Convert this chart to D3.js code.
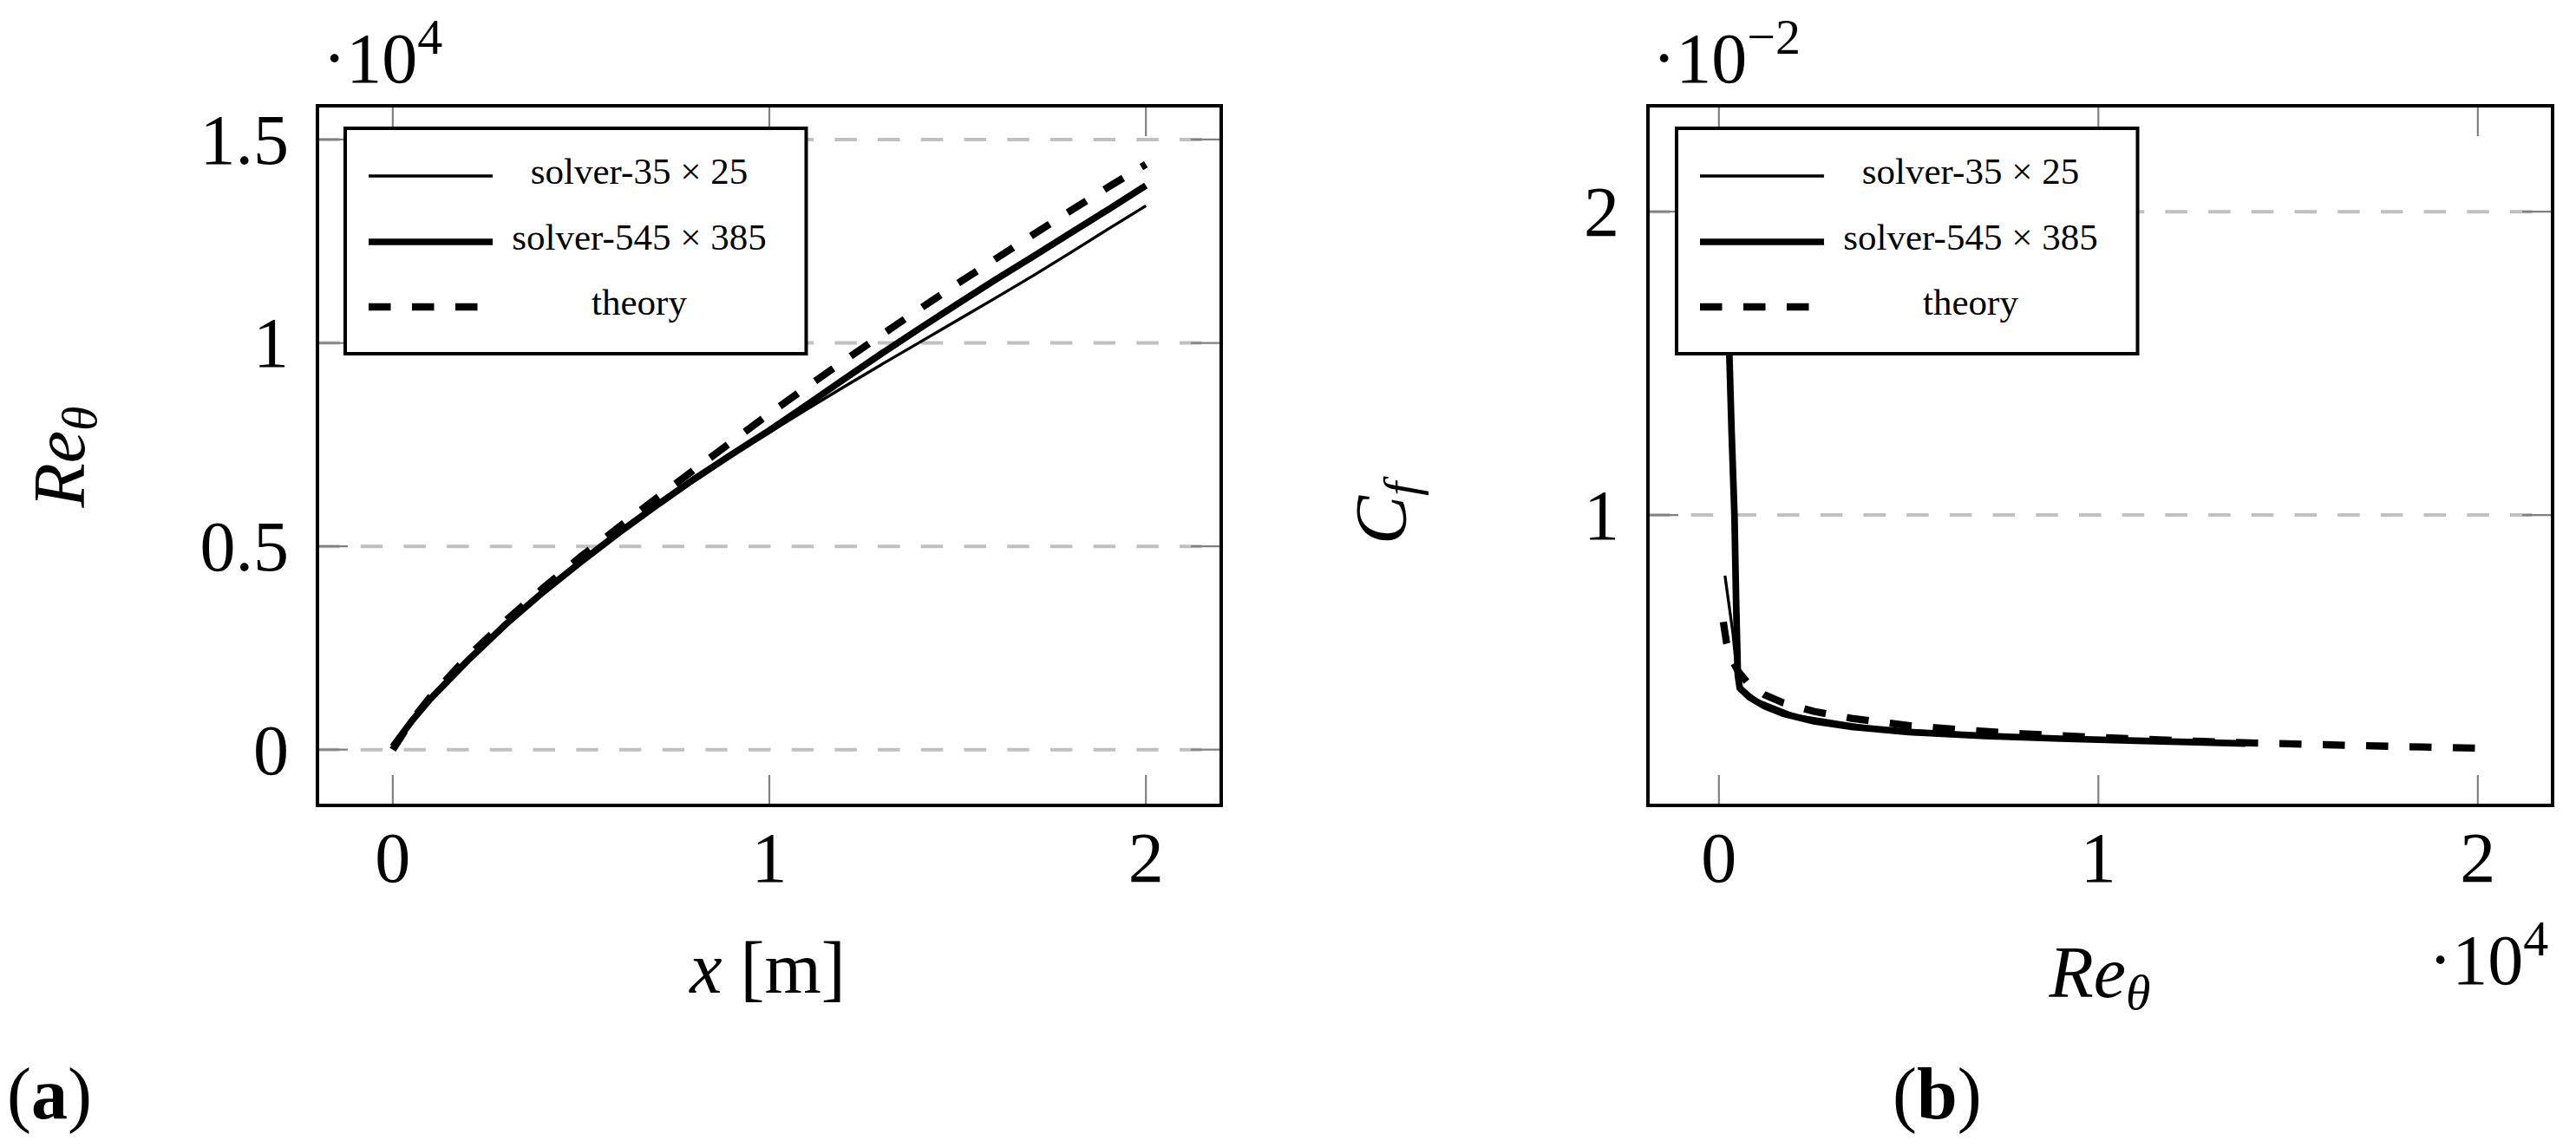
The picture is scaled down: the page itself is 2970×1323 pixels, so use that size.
<!DOCTYPE html>
<html><head><meta charset="utf-8">
<script src="https://cdn.jsdelivr.net/npm/d3@7"></script>
<style>
body{margin:0;background:#fff}
svg{display:block}
text{font-family:"Liberation Serif","Times New Roman",serif;fill:#000}
</style>
</head><body>
<svg id="c" width="2970" height="1323"></svg>
<script>
// ---------- DATA ----------
// (a) Re_theta along the plate, x in metres
const xA = [0, 0.05, 0.1, 0.2, 0.3, 0.4, 0.5, 0.6, 0.7, 0.8, 0.9, 1.0, 1.1, 1.2, 1.3, 1.4, 1.5, 1.6, 1.7, 1.8, 1.9, 2.0];
const reThetaTheoryA = [0, 720, 1300, 2300, 3170, 3980, 4750, 5470, 6180, 6880, 7570, 8260, 8920, 9570, 10210, 10840, 11460, 12060, 12660, 13250, 13830, 14390];
const reThetaFineA   = [80, 700, 1250, 2200, 3080, 3880, 4620, 5330, 6000, 6650, 7260, 7850, 8480, 9120, 9750, 10360, 10960, 11550, 12120, 12700, 13280, 13870];
const reThetaCoarseA = [80, 700, 1250, 2200, 3080, 3880, 4600, 5300, 5980, 6600, 7220, 7800, 8370, 8930, 9480, 10020, 10560, 11100, 11650, 12220, 12800, 13370];

// (b) skin friction vs Re_theta
const reThetaTheoryB = [117, 200, 300, 500, 800, 1200, 1700, 2500, 3500, 5000, 6500, 8000, 10000, 12000, 14000, 16000, 18000, 20000];
const cfTheoryB      = [0.00648, 0.00580, 0.00534, 0.00486, 0.00441, 0.00408, 0.00381, 0.00353, 0.00330, 0.00306, 0.00291, 0.00279, 0.00267, 0.00257, 0.00249, 0.00243, 0.00237, 0.00232];
const reThetaFineB   = [130, 336, 410, 450, 500, 550, 800, 1200, 1700, 2500, 3500, 5000, 7000, 9000, 11000, 13000, 13870];
const cfFineB        = [0.02154, 0.01269, 0.0100, 0.00734, 0.0047, 0.0043, 0.0040, 0.0037, 0.00345, 0.0032, 0.00302, 0.00285, 0.00272, 0.00263, 0.00256, 0.0025, 0.00247];
const reThetaCoarseB = [160, 370, 480, 600, 1000, 2000, 4000, 7000, 10000, 13000, 13370];
const cfCoarseB      = [0.0080, 0.0061, 0.0047, 0.0043, 0.0039, 0.0034, 0.0030, 0.00273, 0.00262, 0.00252, 0.0025];

const legendLabels = ["solver-35 × 25", "solver-545 × 385", "theory"];
const ticksXA = [0, 1, 2], ticksYA = [0, 5000, 10000, 15000];
const ticksXB = [0, 10000, 20000], ticksYB = [0.01, 0.02];

// ---------- STYLE ----------
const svg = d3.select("#c");
const TOP = 122, BOT = 929;
const styles = [
  {w: 3.3, dash: null},
  {w: 7.7, dash: null},
  {w: 8.3, dash: "25.5,24.5"}
];
const TICKF = 82, LABF = 84, LEGF = 43;

function panel(opt) {
  const g = svg.append("g");
  const x = d3.scaleLinear().domain(opt.xdom).range([opt.left, opt.right]);
  const y = d3.scaleLinear().domain(opt.ydom).range([BOT, TOP]);
  const id = "clip" + opt.name;
  svg.append("clipPath").attr("id", id).append("rect")
    .attr("x", opt.left).attr("y", TOP).attr("width", opt.right - opt.left).attr("height", BOT - TOP);

  // horizontal grid
  g.selectAll(".grid").data(opt.yt).enter().append("line")
    .attr("x1", opt.left).attr("x2", opt.right)
    .attr("y1", d => y(d)).attr("y2", d => y(d))
    .attr("stroke", "#c0c0c0").attr("stroke-width", 4).attr("stroke-dasharray", "25.5,24.2");

  // ticks inside on all sides
  const TL = 35;
  opt.xt.forEach(v => {
    g.append("line").attr("x1", x(v)).attr("x2", x(v)).attr("y1", BOT).attr("y2", BOT - TL)
      .attr("stroke", "#808080").attr("stroke-width", 2.2);
    g.append("line").attr("x1", x(v)).attr("x2", x(v)).attr("y1", TOP).attr("y2", TOP + TL)
      .attr("stroke", "#808080").attr("stroke-width", 2.2);
  });
  opt.yt.forEach(v => {
    g.append("line").attr("x1", opt.left).attr("x2", opt.left + TL).attr("y1", y(v)).attr("y2", y(v))
      .attr("stroke", "#808080").attr("stroke-width", 2.2);
    g.append("line").attr("x1", opt.right).attr("x2", opt.right - TL).attr("y1", y(v)).attr("y2", y(v))
      .attr("stroke", "#808080").attr("stroke-width", 2.2);
  });

  // series
  const line = d3.line().x(d => x(d[0])).y(d => y(d[1]));
  opt.series.forEach((s, i) => {
    const pts = s.xs.map((v, k) => [v, s.ys[k]]);
    g.append("path").attr("d", line(pts)).attr("clip-path", `url(#${id})`)
      .attr("fill", "none").attr("stroke", "#000")
      .attr("stroke-width", styles[i].w)
      .attr("stroke-dasharray", styles[i].dash)
      .attr("stroke-linejoin", "miter").attr("stroke-linecap", "butt");
  });

  // frame
  g.append("rect").attr("x", opt.left).attr("y", TOP)
    .attr("width", opt.right - opt.left).attr("height", BOT - TOP)
    .attr("fill", "none").attr("stroke", "#000").attr("stroke-width", 4);

  // tick labels
  opt.xt.forEach(v => {
    g.append("text").attr("x", x(v)).attr("y", 1017).attr("text-anchor", "middle")
      .attr("font-size", TICKF).text(opt.xfmt(v));
  });
  opt.yt.forEach(v => {
    g.append("text").attr("x", opt.left - 33).attr("y", y(v)).attr("dy", "0.34em")
      .attr("text-anchor", "end").attr("font-size", TICKF).text(opt.yfmt(v));
  });

  // legend
  const L = opt.legend;
  g.append("rect").attr("x", L.x).attr("y", 148).attr("width", 531.5).attr("height", 260)
    .attr("fill", "#fff").attr("stroke", "#000").attr("stroke-width", 4);
  const rows = [203, 279, 354];
  legendLabels.forEach((lab, i) => {
    g.append("line").attr("x1", L.x + 27).attr("x2", L.x + (i === 2 ? 172 : 170))
      .attr("y1", rows[i]).attr("y2", rows[i])
      .attr("stroke", "#000").attr("stroke-width", styles[i].w)
      .attr("stroke-dasharray", styles[i].dash);
    g.append("text").attr("x", L.x + 339).attr("y", rows[i] + 9)
      .attr("text-anchor", "middle").attr("font-size", LEGF).text(lab);
  });
  return {x, y, g};
}

// ---------- PANEL (a) ----------
panel({
  name: "A", left: 366, right: 1408,
  xdom: [-0.2, 2.2], ydom: [-1370, 15830],
  xt: ticksXA, yt: ticksYA,
  xfmt: d => String(d), yfmt: d => String(d / 1e4),
  legend: {x: 398},
  series: [
    {xs: xA, ys: reThetaCoarseA},
    {xs: xA, ys: reThetaFineA},
    {xs: xA, ys: reThetaTheoryA}
  ]
});

// ---------- PANEL (b) ----------
panel({
  name: "B", left: 1900, right: 2943,
  xdom: [-1870, 21970], ydom: [0.00043, 0.02349],
  xt: ticksXB, yt: ticksYB,
  xfmt: d => String(d / 1e4), yfmt: d => String(Math.round(d * 100)),
  legend: {x: 1933},
  series: [
    {xs: reThetaCoarseB, ys: cfCoarseB},
    {xs: reThetaFineB, ys: cfFineB},
    {xs: reThetaTheoryB, ys: cfTheoryB}
  ]
});

// ---------- multipliers ----------
function mult(xp, yp, sup) {
  const t = svg.append("text").attr("x", xp).attr("y", yp).attr("font-size", TICKF);
  t.append("tspan").text("·10");
  t.append("tspan").attr("font-size", 58).attr("dy", -33).text(sup);
}
mult(372, 95, "4");
mult(1905, 95, "−2");
mult(2800, 1135, "4");

// ---------- axis labels ----------
const xl = svg.append("text").attr("x", 885).attr("y", 1145).attr("text-anchor", "middle").attr("font-size", LABF);
xl.append("tspan").attr("font-style", "italic").text("x");
xl.append("tspan").text(" [m]");

function reTheta(sel) {
  sel.append("tspan").attr("font-style", "italic").text("Re");
  sel.append("tspan").attr("font-style", "italic").attr("font-size", 58).attr("dy", 14).text("θ");
}
const xlb = svg.append("text").attr("x", 2421).attr("y", 1150).attr("text-anchor", "middle").attr("font-size", LABF);
reTheta(xlb);

const ylA = svg.append("text").attr("transform", "translate(97,527) rotate(-90)")
  .attr("text-anchor", "middle").attr("font-size", LABF);
reTheta(ylA);

const ylB = svg.append("text").attr("transform", "translate(1621,592) rotate(-90)")
  .attr("text-anchor", "middle").attr("font-size", LABF);
ylB.append("tspan").attr("font-style", "italic").text("C");
ylB.append("tspan").attr("font-style", "italic").attr("font-size", 58).attr("dy", 14).text("f");

// ---------- panel captions ----------
function caption(xp, letter) {
  const t = svg.append("text").attr("x", xp).attr("y", 1290).attr("font-size", LABF);
  t.append("tspan").text("(");
  t.append("tspan").attr("font-weight", "bold").text(letter);
  t.append("tspan").text(")");
}
caption(8, "a");
caption(2182, "b");
</script>
</body></html>
